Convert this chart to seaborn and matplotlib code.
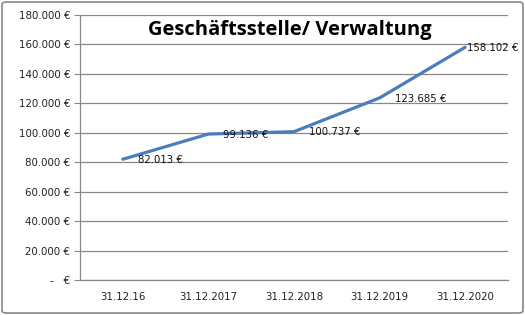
import matplotlib
matplotlib.use("Agg")
import matplotlib.pyplot as plt
import seaborn as sns
import pandas as pd
from matplotlib.patches import FancyBboxPatch

categories = ["31.12.16", "31.12.2017", "31.12.2018", "31.12.2019", "31.12.2020"]
values = [82013, 99136, 100737, 123685, 158102]
value_labels = ["82.013 €", "99.136 €", "100.737 €", "123.685 €", "158.102 €"]
yticks = [0, 20000, 40000, 60000, 80000, 100000, 120000, 140000, 160000, 180000]
ytick_labels = ["-   €", "20.000 €", "40.000 €", "60.000 €", "80.000 €", "100.000 €",
                "120.000 €", "140.000 €", "160.000 €", "180.000 €"]
title = "Geschäftsstelle/ Verwaltung"

sns.set_theme(style="white")
plt.rcParams['font.family'] = ['DejaVu Sans']

df = pd.DataFrame({"pos": range(len(categories)), "value": values})

fig = plt.figure(figsize=(5.25, 3.15), dpi=100)
fig.patch.set_facecolor("white")
ax = fig.add_axes([80/525, 1-280/315, 428/525, 265/315])

sns.lineplot(data=df, x="pos", y="value", ax=ax, color="#4A7EBB", linewidth=2.3)

ax.set_xlim(-0.5, 4.5)
ax.set_ylim(0, 180000)
ax.set_yticks(yticks)
ax.set_yticklabels(ytick_labels, fontsize=7.4, color="#222222")
ax.set_xticks(range(len(categories)))
ax.set_xticklabels(categories, fontsize=7.4, color="#222222")
ax.set_xticks([i - 0.5 for i in range(len(categories) + 1)], minor=True)
ax.tick_params(axis="x", which="major", length=0, pad=9)
ax.tick_params(axis="x", which="minor", length=4, width=0.8, color="#888888", direction="out")
ax.tick_params(axis="y", which="major", length=4, width=0.8, color="#888888", direction="out", left=True, pad=3)
ax.set_xlabel("")
ax.set_ylabel("")

ax.grid(axis="y", color="#888888", linewidth=0.9)
ax.set_axisbelow(True)
for s in ["top", "right"]:
    ax.spines[s].set_visible(False)
for s in ["left", "bottom"]:
    ax.spines[s].set_color("#888888")
    ax.spines[s].set_linewidth(0.9)

offsets = [(10.8, -0.8), (10.8, -0.5), (10.8, -0.5), (10.8, -0.5), (1.5, -0.5)]
for i, (v, lab) in enumerate(zip(values, value_labels)):
    ax.annotate(lab, xy=(i, v), xytext=offsets[i], textcoords="offset points",
                ha="left", va="center", fontsize=7.3, color="#111111",
                annotation_clip=False)

fig.text(290/525, 1-30/315, title, ha="center", va="center", fontsize=14.5,
         fontweight="bold", family=["Open Sans", "DejaVu Sans"], color="black")

border = FancyBboxPatch((2/525, 2/315), 521/525, 311/315,
                        boxstyle="round,pad=0,rounding_size=0.008",
                        transform=fig.transFigure, fill=False,
                        edgecolor="#888888", linewidth=1.2)
fig.patches.append(border)

fig.savefig("out.png", dpi=100)
